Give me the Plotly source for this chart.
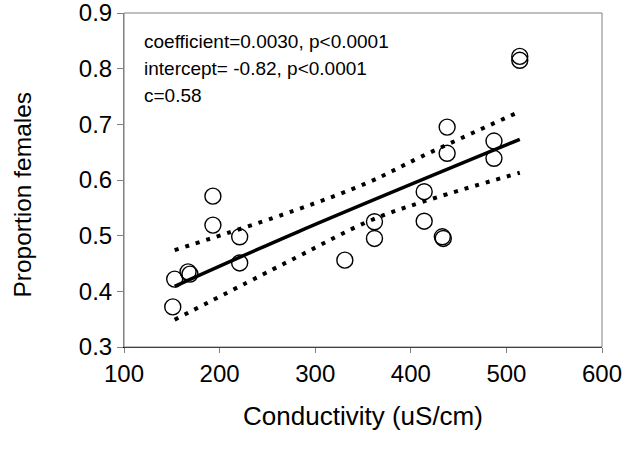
import plotly.graph_objects as go

# observed sites
conductivity = [153, 151, 167, 169, 193, 193, 221, 221, 331, 362, 362, 414, 414, 433, 434, 438, 438, 487, 487, 514, 514]
prop_female = [0.422, 0.372, 0.435, 0.431, 0.571, 0.519, 0.498, 0.451, 0.456, 0.525, 0.495,
               0.579, 0.526, 0.498, 0.495, 0.695, 0.648, 0.670, 0.639, 0.822, 0.815]

# fitted line and confidence band
fit_x = [153, 282, 514]
fit_y = [0.409, 0.507, 0.673]
ci_x = [153, 278, 356, 411, 514]
ci_upper = [0.474, 0.545, 0.596, 0.642, 0.723]
ci_lower = [0.349, 0.459, 0.526, 0.560, 0.613]

stats_lines = ["coefficient=0.0030, p<0.0001", "intercept= -0.82, p<0.0001", "c=0.58"]

font = "Liberation Sans, Arial, sans-serif"
dotted = dict(color="black", width=4, dash="4px,7px", shape="spline")

fig = go.Figure()
fig.add_trace(go.Scatter(x=ci_x, y=ci_upper, mode="lines", line=dotted, showlegend=False))
fig.add_trace(go.Scatter(x=ci_x, y=ci_lower, mode="lines", line=dotted, showlegend=False))
fig.add_trace(go.Scatter(x=fit_x, y=fit_y, mode="lines", line=dict(color="black", width=3.5, shape="spline"),
                         showlegend=False))
fig.add_trace(go.Scatter(x=conductivity, y=prop_female, mode="markers", showlegend=False,
                         marker=dict(symbol="circle-open", size=16, color="black", line=dict(width=1.4))))

# stats block, one line per annotation (plot area is 334px tall)
for i, line in enumerate(stats_lines):
    fig.add_annotation(text=line, xref="paper", yref="paper", x=0.038, y=1 - (29 + 26.5 * i) / 334,
                       xanchor="left", yanchor="middle", align="left", showarrow=False,
                       font=dict(family=font, size=19, color="black"))

# y title sits a little below the plot centre in the original
fig.add_annotation(text="Proportion females", xref="paper", yref="paper", x=-0.213, y=0.457,
                   textangle=-90, showarrow=False, xanchor="center", yanchor="middle",
                   font=dict(family=font, size=24.5, color="black"))

fig.add_shape(type="rect", xref="paper", yref="paper", x0=0, x1=1, y0=0, y1=1,
              line=dict(color="#808080", width=1), layer="above")

fig.update_layout(
    width=629, height=450,
    margin=dict(l=124, r=27, t=13, b=103),
    paper_bgcolor="white", plot_bgcolor="white",
    font=dict(family=font, color="black", size=24),
    xaxis=dict(range=[100, 600], tickvals=[100, 200, 300, 400, 500, 600], showgrid=False, zeroline=False,
               showline=True, linecolor="black", linewidth=1, ticks="outside", ticklen=5,
               tickcolor="#808080", automargin=False, ticklabeloverflow="allow",
               title=dict(text="Conductivity (uS/cm)", font=dict(size=26), standoff=21)),
    yaxis=dict(range=[0.3, 0.9], tickvals=[0.3, 0.4, 0.5, 0.6, 0.7, 0.8, 0.9], tickformat=".1f",
               showgrid=False, zeroline=False, showline=True, linecolor="#808080", linewidth=1,
               ticks="outside", ticklen=6, tickcolor="#808080", automargin=False, ticklabeloverflow="allow"),
)

# drop the default 8px body margin so the figure fills the window exactly
fig.write_html("out.html", config={"displayModeBar": False},
               post_script="document.body.style.margin='0';")
